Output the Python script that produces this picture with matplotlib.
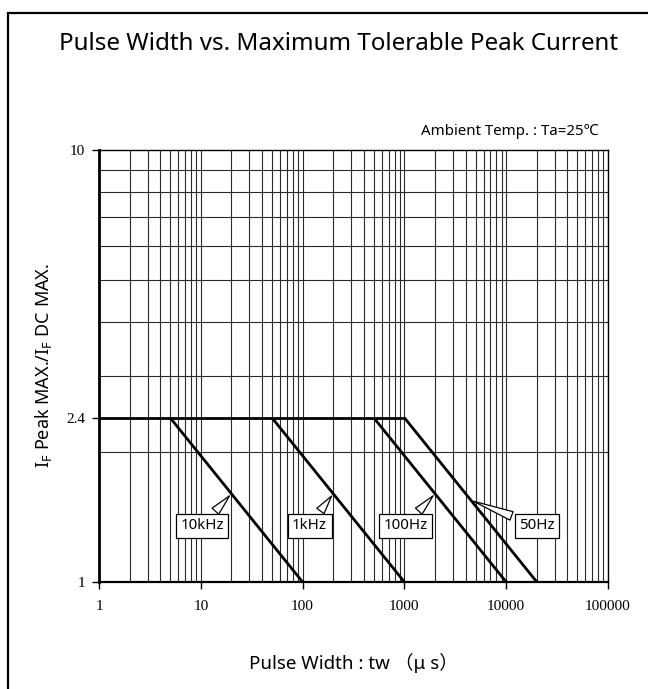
import matplotlib
matplotlib.use('Agg')
import matplotlib.pyplot as plt
import numpy as np
from matplotlib.patches import Rectangle
from matplotlib.ticker import FixedLocator, NullFormatter

plt.rcParams['font.family'] = ['Noto Sans', 'Noto Sans CJK JP', 'DejaVu Sans']
plt.rcParams['mathtext.fontset'] = 'custom'
plt.rcParams['mathtext.rm'] = 'Noto Sans'

# flat limit and the four derating lines (pulse width us, ratio)
flat_x = [1, 1000]
flat_y = [2.4, 2.4]
freqs = ['10kHz', '1kHz', '100Hz', '50Hz']
line_start_x = [5, 50, 500, 1000]
line_end_x = [100, 1000, 10000, 20000]
line_start_y = 2.4
line_end_y = 1.0

# callouts: point on line (x) and box centre
tip_x = [20, 200, 2000, 4500]
box_x = [10.3, 117, 1020, 20000]
box_y = [1.35, 1.35, 1.35, 1.35]

x_ticks = [1, 10, 100, 1000, 10000, 100000]
y_ticks = [1, 2.4, 10]

fig = plt.figure(figsize=(6.48, 6.89), dpi=100)
ax = fig.add_axes([99 / 648, 1 - 582 / 689, 509 / 648, 432 / 689])
ax.set_xscale('log')
ax.set_yscale('log')
ax.set_xlim(1, 100000)
ax.set_ylim(1, 10)

# grid
ax.xaxis.set_minor_locator(FixedLocator(
    [m * 10 ** d for d in range(5) for m in range(2, 10)]))
ax.yaxis.set_minor_locator(FixedLocator(list(range(2, 10))))
ax.xaxis.set_minor_formatter(NullFormatter())
ax.yaxis.set_minor_formatter(NullFormatter())
ax.grid(True, which='both', axis='x', color='#2a2a2a', lw=0.8)
ax.grid(True, which='minor', axis='y', color='#2a2a2a', lw=0.8)
ax.tick_params(which='minor', length=0)

ax.set_xticks(x_ticks)
ax.set_xticklabels([str(v) for v in x_ticks], family='Liberation Serif', fontsize=11)
ax.set_yticks(y_ticks)
ax.set_yticklabels(['1', '2.4', '10'], family='Liberation Serif', fontsize=11)
ax.tick_params(which='major', length=5, width=1, direction='out')
ax.tick_params(axis='x', pad=8)
ax.tick_params(axis='y', pad=5)
for s in ax.spines.values():
    s.set_linewidth(1.0)
ax.spines['left'].set_linewidth(2)
ax.spines['bottom'].set_linewidth(1.6)

ax.plot(flat_x, flat_y, color='black', lw=2.0, solid_capstyle='butt')
for i in range(len(freqs)):
    ax.plot([line_start_x[i], line_end_x[i]], [line_start_y, line_end_y],
            color='black', lw=2.0, solid_capstyle='butt')
    # y on the line at the tip (log-log interpolation)
    f = np.log10(tip_x[i] / line_start_x[i]) / np.log10(line_end_x[i] / line_start_x[i])
    tip_y = 10 ** (np.log10(line_start_y) * (1 - f))
    ax.annotate(freqs[i], xy=(tip_x[i], tip_y), xytext=(box_x[i], box_y[i]),
                ha='center', va='center', fontsize=10.8,
                bbox=dict(boxstyle='square,pad=0.3', fc='white', ec='black', lw=0.9),
                arrowprops=dict(arrowstyle='wedge,tail_width=0.6,shrink_factor=0.5',
                                fc='white', ec='black', lw=0.9))

ax.set_xlabel('Pulse Width : tw （μ s）', fontsize=13.5)
ax.xaxis.set_label_coords(0.5, -0.165)
ax.set_ylabel(r'I$_\mathrm{F}$ Peak MAX./I$_\mathrm{F}$ DC MAX.', fontsize=13)
ax.yaxis.set_label_coords(-0.088, 0.5)
fig.text(0.522, 1 - 44 / 689, 'Pulse Width vs. Maximum Tolerable Peak Current',
         ha='center', va='center', fontsize=17.4)
ax.text(0.982, 1.025, 'Ambient Temp. : Ta=25℃', transform=ax.transAxes,
        ha='right', va='bottom', fontsize=10.8)

fig.patches.append(Rectangle((8 / 648, -0.1), 2, 1.1 - 13 / 689,
                             transform=fig.transFigure, fill=False,
                             ec='black', lw=1.6))

fig.savefig('out.png', dpi=100)
